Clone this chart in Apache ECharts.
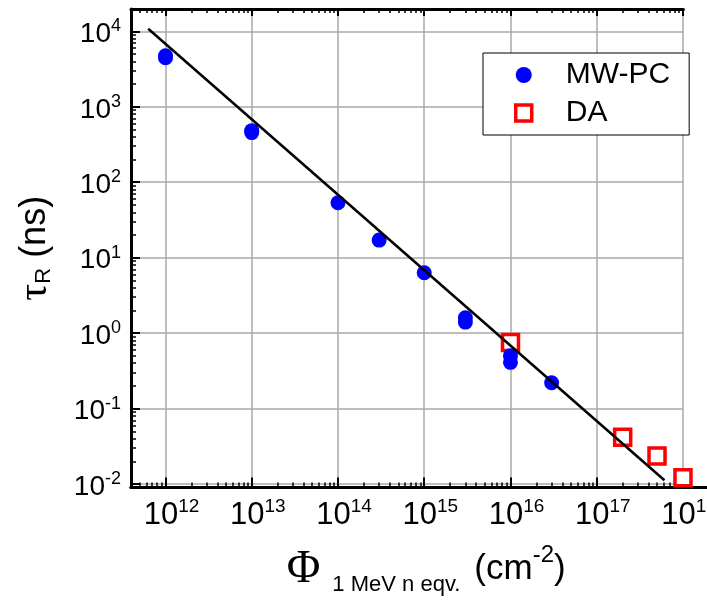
<!DOCTYPE html>
<html><head><meta charset="utf-8">
<script src="https://cdn.jsdelivr.net/npm/echarts@6/dist/echarts.min.js"></script>
<style>html,body{margin:0;padding:0;background:#fff}#c{width:707px;height:600px}</style>
</head><body><div id="c"></div>
<script>
// ---- data ----
const mwpcFluence = [1e12, 1e12, 1e13, 1e13, 1e14, 3e14, 1e15, 3e15, 3e15, 1e16, 1e16, 3e16];
const mwpcTau     = [4460, 4740, 455, 483, 53.5, 17.1, 6.3, 1.6, 1.4, 0.5, 0.41, 0.22];
const daFluence   = [1e16, 2e17, 5e17, 1e18];
const daTau       = [0.75, 0.0416, 0.0235, 0.0121];
const fitFluence  = [6.3e11, 6.1e17];
const fitTau      = [10800, 0.0112];
const xDecades    = [12, 13, 14, 15, 16, 17, 18];
const yDecades    = [-2, -1, 0, 1, 2, 3, 4];

// ---- axes helpers ----
const xMin = Math.pow(10, 11.6), xMax = Math.pow(10, 18.005);
const yMin = Math.pow(10, -2.046), yMax = Math.pow(10, 4.296);
const xMajor = xDecades.map(e => Math.pow(10, e));
const yMajor = yDecades.map(e => Math.pow(10, e));
function minorTicks(lo, hi) {
  const out = [];
  for (let e = Math.floor(Math.log10(lo)); e <= Math.ceil(Math.log10(hi)); e++) {
    for (let m = 2; m <= 9; m++) {
      const v = m * Math.pow(10, e);
      if (v > lo && v < hi) out.push(v);
    }
  }
  return out;
}
const xMinor = minorTicks(xMin, xMax);
const yMinor = minorTicks(yMin, yMax);
const FONT = 'Liberation Sans, Arial, sans-serif';
const SERIF = 'Liberation Serif, Times New Roman, serif';
function powLabel(v) {
  const e = Math.round(Math.log10(v));
  return '{b|10}{s|' + e + '}';
}
const black = '#000';
const gridColor = '#a8a8a8';

function tickAxis(kind, pos, values, len, width, showLine) {
  return {
    type: 'log', position: pos, gridIndex: 0,
    min: kind === 'x' ? xMin : yMin, max: kind === 'x' ? xMax : yMax,
    axisLine: {show: showLine, onZero: false, lineStyle: {color: black, width: 3}},
    axisTick: {show: true, inside: true, length: len, customValues: values, lineStyle: {color: black, width: width}},
    axisLabel: {show: false},
    splitLine: {show: false},
    minorTick: {show: false}
  };
}

const xMain = tickAxis('x', 'bottom', xMajor, 10, 2, true);
xMain.axisLabel = {
  show: true, customValues: xMajor, formatter: powLabel, margin: 10,
  showMinLabel: true, showMaxLabel: true, hideOverlap: false,
  padding: [0, 0, 0, 12], color: black, fontFamily: FONT,
  rich: {
    b: {fontSize: 31, lineHeight: 36, fontFamily: FONT, color: black},
    s: {fontSize: 19, lineHeight: 20, verticalAlign: 'top', fontFamily: FONT, color: black}
  }
};
xMain.splitLine = {show: true, lineStyle: {color: gridColor, width: 1.5}};
xMain.name = '{phi|\u03A6}{sub|1 MeV n eqv.}{p|(cm}{sup|-2}{p|)}';
xMain.nameLocation = 'middle';
xMain.nameGap = 56;
xMain.nameTextStyle = {
  padding: [0, 0, 0, 38], fontFamily: FONT, color: black,
  rich: {
    phi: {fontSize: 46, lineHeight: 52, fontFamily: SERIF, color: black},
    sub: {fontSize: 22, lineHeight: 8, verticalAlign: 'bottom', fontFamily: FONT, color: black, padding: [0, 14, 0, 12]},
    p: {fontSize: 35, lineHeight: 52, fontFamily: FONT, color: black},
    sup: {fontSize: 24, lineHeight: 26, verticalAlign: 'top', fontFamily: FONT, color: black}
  }
};

const yMain = tickAxis('y', 'left', yMajor, 9, 2, true);
yMain.axisLabel = {
  show: true, customValues: yMajor, formatter: powLabel, margin: 10,
  showMinLabel: true, showMaxLabel: true, hideOverlap: false,
  padding: [6, 0, 0, 0], color: black, fontFamily: FONT,
  rich: {
    b: {fontSize: 28, lineHeight: 34, fontFamily: FONT, color: black},
    s: {fontSize: 18, lineHeight: 18, verticalAlign: 'top', fontFamily: FONT, color: black}
  }
};
yMain.splitLine = {show: true, lineStyle: {color: gridColor, width: 1.5}};
yMain.name = '{t|\u03C4}{r|R}{p| (ns)}';
yMain.nameLocation = 'middle';
yMain.nameGap = 76;
yMain.nameTextStyle = {
  fontFamily: FONT, color: black,
  rich: {
    t: {fontSize: 42, lineHeight: 40, fontFamily: SERIF, color: black},
    r: {fontSize: 22, lineHeight: 14, verticalAlign: 'bottom', fontFamily: FONT, color: black},
    p: {fontSize: 36, lineHeight: 40, fontFamily: FONT, color: black}
  }
};

const option = {
  backgroundColor: '#fff',
  animation: false,
  grid: [
    {left: 131, right: 23.6, top: 9, bottom: 112.5, containLabel: false, outerBoundsMode: 'none'},
    {left: 131, right: 0, top: 9, bottom: 112.5, containLabel: false, outerBoundsMode: 'none'}
  ],
  xAxis: [
    xMain,
    tickAxis('x', 'bottom', xMinor, 5, 1.5, false),
    tickAxis('x', 'top', xMajor, 7, 2, true),
    tickAxis('x', 'top', xMinor, 4, 1.5, false),
    {
      gridIndex: 1, type: 'value', position: 'bottom', min: 0, max: 1, z: 1,
      axisLine: {show: true, onZero: false, lineStyle: {color: black, width: 3}},
      axisTick: {show: false}, axisLabel: {show: false}, splitLine: {show: false}
    }
  ],
  yAxis: [
    yMain,
    tickAxis('y', 'left', yMinor, 5, 1.5, false),
    {gridIndex: 1, type: 'value', show: false, min: 0, max: 1}
  ],
  legend: {
    data: [
      {name: 'MW-PC', itemStyle: {color: '#0000ff', opacity: 1}},
      {name: 'DA', itemStyle: {borderWidth: 3.5, borderColor: '#ff0000', color: '#fff', opacity: 1}}
    ],
    orient: 'vertical', left: 483, top: 53,
    itemWidth: 16, itemHeight: 16, itemGap: 8,
    padding: [7, 19, 7, 31],
    borderColor: black, borderWidth: 1, backgroundColor: '#fff',
    formatter: n => '{g|}' + n,
    textStyle: {fontSize: 30, lineHeight: 30, color: black, fontFamily: FONT,
      rich: {g: {width: 29}}}
  },
  series: [
    {
      name: 'DA', type: 'scatter', z: 2, clip: false,
      symbol: 'rect', symbolSize: 16,
      itemStyle: {color: '#fff', borderColor: '#ff0000', borderWidth: 3.5, opacity: 1},
      data: daFluence.map((x, i) => [x, daTau[i]])
    },
    {
      name: 'MW-PC', type: 'scatter', z: 3, clip: false,
      symbol: 'circle', symbolSize: 15,
      itemStyle: {color: '#0000ff', opacity: 1},
      data: mwpcFluence.map((x, i) => [x, mwpcTau[i]])
    },
    {
      name: 'fit', type: 'line', z: 4, silent: true,
      showSymbol: false, symbol: 'none',
      lineStyle: {color: black, width: 2.5},
      data: fitFluence.map((x, i) => [x, fitTau[i]])
    }
  ]
};
const chart = echarts.init(document.getElementById('c'), null, {renderer: 'canvas'});
chart.setOption(option);
</script>
</body></html>
